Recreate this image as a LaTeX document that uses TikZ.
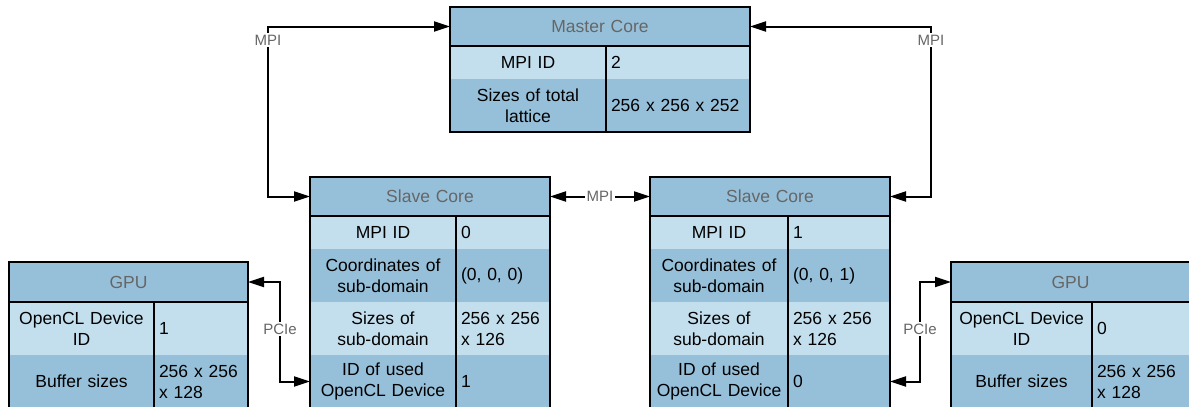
\documentclass[tikz,border=0pt]{standalone}
\usepackage{fontspec}
\setmainfont{Liberation Sans}
\usetikzlibrary{arrows.meta}

\definecolor{hdr}{HTML}{96C0DA}
\definecolor{rowlt}{HTML}{C3DFEE}
\definecolor{rowdk}{HTML}{96C0DA}
\definecolor{lblgrey}{HTML}{666666}

\tikzset{
  box/.style={anchor=north west, inner xsep=5pt, inner ysep=0pt, outer sep=0pt,
              fill=#1, font=\fontsize{17.5}{21}\selectfont, text=black},
  keycell/.style={box=#1, align=center},
  valcell/.style={box=#1, align=left},
  headcell/.style={box=hdr, align=center, text=lblgrey},
  frame/.style={draw=black, line width=2pt},
  conn/.style={draw=black, line width=2pt, {Triangle[length=16pt,width=10pt]}-{Triangle[length=16pt,width=10pt]}},
  linklabel/.style={fill=white, inner sep=1.5pt, text=lblgrey, font=\fontsize{15}{17}\selectfont},
}

\begin{document}
\begin{tikzpicture}[x=1pt, y=-1pt]
\useasboundingbox (0,0) rectangle (1189,407);
\clip (0,0) rectangle (1189,407);

% ---------------- Master core ----------------
\node[headcell, minimum width=300pt, minimum height=39pt, text width=290pt] (mh) at (450,7) {Master Core};
\node[keycell=rowlt, minimum width=156pt, minimum height=33pt, text width=146pt] (m1k) at (450,46) {MPI ID};
\node[valcell=rowlt, minimum width=144pt, minimum height=33pt, text width=134pt] (m1v) at (606,46) {2};
\node[keycell=rowdk, minimum width=156pt, minimum height=53pt, text width=146pt] (m2k) at (450,79) {Sizes of total\\lattice};
\node[valcell=rowdk, minimum width=144pt, minimum height=53pt, text width=134pt] (m2v) at (606,79) {256 x 256 x 252};
\draw[frame] (450,7) rectangle (750,132);
\draw[frame] (450,46) -- (750,46);
\draw[frame] (606,46) -- (606,132);

% ---------------- Slave core, left ----------------
\node[headcell, minimum width=240pt, minimum height=39pt, text width=230pt] (slh) at (310,177) {Slave Core};
\node[keycell=rowlt, minimum width=146pt, minimum height=33pt, text width=136pt] (sl1k) at (310,216) {MPI ID};
\node[valcell=rowlt, minimum width=94pt, minimum height=33pt, text width=84pt] (sl1v) at (456,216) {0};
\node[keycell=rowdk, minimum width=146pt, minimum height=53pt, text width=136pt] (sl2k) at (310,249) {Coordinates of\\sub-domain};
\node[valcell=rowdk, minimum width=94pt, minimum height=53pt, text width=84pt] (sl2v) at (456,249) {(0, 0, 0)};
\node[keycell=rowlt, minimum width=146pt, minimum height=53pt, text width=136pt] (sl3k) at (310,302) {Sizes of\\sub-domain};
\node[valcell=rowlt, minimum width=94pt, minimum height=53pt, text width=84pt] (sl3v) at (456,302) {256 x 256\\x 126};
\node[keycell=rowdk, minimum width=146pt, minimum height=53pt, text width=136pt] (sl4k) at (310,355) {ID of used\\OpenCL Device};
\node[valcell=rowdk, minimum width=94pt, minimum height=53pt, text width=84pt] (sl4v) at (456,355) {1};
\draw[frame] (310,177) rectangle (550,410);
\draw[frame] (310,216) -- (550,216);
\draw[frame] (456,216) -- (456,410);

% ---------------- Slave core, right ----------------
\node[headcell, minimum width=240pt, minimum height=39pt, text width=230pt] (srh) at (650,177) {Slave Core};
\node[keycell=rowlt, minimum width=138pt, minimum height=33pt, text width=128pt] (sr1k) at (650,216) {MPI ID};
\node[valcell=rowlt, minimum width=102pt, minimum height=33pt, text width=92pt] (sr1v) at (788,216) {1};
\node[keycell=rowdk, minimum width=138pt, minimum height=53pt, text width=128pt] (sr2k) at (650,249) {Coordinates of\\sub-domain};
\node[valcell=rowdk, minimum width=102pt, minimum height=53pt, text width=92pt] (sr2v) at (788,249) {(0, 0, 1)};
\node[keycell=rowlt, minimum width=138pt, minimum height=53pt, text width=128pt] (sr3k) at (650,302) {Sizes of\\sub-domain};
\node[valcell=rowlt, minimum width=102pt, minimum height=53pt, text width=92pt] (sr3v) at (788,302) {256 x 256\\x 126};
\node[keycell=rowdk, minimum width=138pt, minimum height=53pt, text width=128pt] (sr4k) at (650,355) {ID of used\\OpenCL Device};
\node[valcell=rowdk, minimum width=102pt, minimum height=53pt, text width=92pt] (sr4v) at (788,355) {0};
\draw[frame] (650,177) rectangle (890,410);
\draw[frame] (650,216) -- (890,216);
\draw[frame] (788,216) -- (788,410);

% ---------------- GPU, left ----------------
\node[headcell, minimum width=239pt, minimum height=40pt, text width=229pt] (glh) at (9,262) {GPU};
\node[keycell=rowlt, minimum width=145pt, minimum height=53pt, text width=135pt] (gl1k) at (9,302) {OpenCL Device\\ID};
\node[valcell=rowlt, minimum width=94pt, minimum height=53pt, text width=84pt] (gl1v) at (154,302) {1};
\node[keycell=rowdk, minimum width=145pt, minimum height=53pt, text width=135pt] (gl2k) at (9,355) {Buffer sizes};
\node[valcell=rowdk, minimum width=94pt, minimum height=53pt, text width=84pt] (gl2v) at (154,355) {256 x 256\\x 128};
\draw[frame] (9,262) rectangle (248,410);
\draw[frame] (9,302) -- (248,302);
\draw[frame] (154,302) -- (154,410);

% ---------------- GPU, right ----------------
\node[headcell, minimum width=239pt, minimum height=40pt, text width=229pt] (grh) at (951,262) {GPU};
\node[keycell=rowlt, minimum width=141pt, minimum height=53pt, text width=131pt] (gr1k) at (951,302) {OpenCL Device\\ID};
\node[valcell=rowlt, minimum width=98pt, minimum height=53pt, text width=88pt] (gr1v) at (1092,302) {0};
\node[keycell=rowdk, minimum width=141pt, minimum height=53pt, text width=131pt] (gr2k) at (951,355) {Buffer sizes};
\node[valcell=rowdk, minimum width=98pt, minimum height=53pt, text width=88pt] (gr2v) at (1092,355) {256 x 256\\x 128};
\draw[frame] (951,262) rectangle (1192,410);
\draw[frame] (951,302) -- (1192,302);
\draw[frame] (1092,302) -- (1092,410);

% ---------------- Connectors ----------------
\coordinate (mpiL) at (268,0);
\coordinate (mpiR) at (931,0);
\coordinate (pcieL) at (280,0);
\coordinate (pcieR) at (920,0);

\draw[conn] (mh.west) -| (mpiL |- slh.west) -- (slh.west);
\draw[conn] (mh.east) -| (mpiR |- srh.east) -- (srh.east);
\draw[conn] (slh.east) -- (srh.west);
\draw[conn] (glh.east) -| (pcieL |- sl4k.west) -- (sl4k.west);
\draw[conn] (sr4v.east) -| (pcieR |- grh.west) -- (grh.west);

\node[linklabel] (lmpiL) at (268,40) {MPI};
\node[linklabel] (lmpiR) at (931,40) {MPI};
\node[linklabel] (lmpiM) at (600,196.5) {MPI};
\node[linklabel] (lpcieL) at (280,329) {PCIe};
\node[linklabel] (lpcieR) at (920,329) {PCIe};
\end{tikzpicture}
\end{document}
